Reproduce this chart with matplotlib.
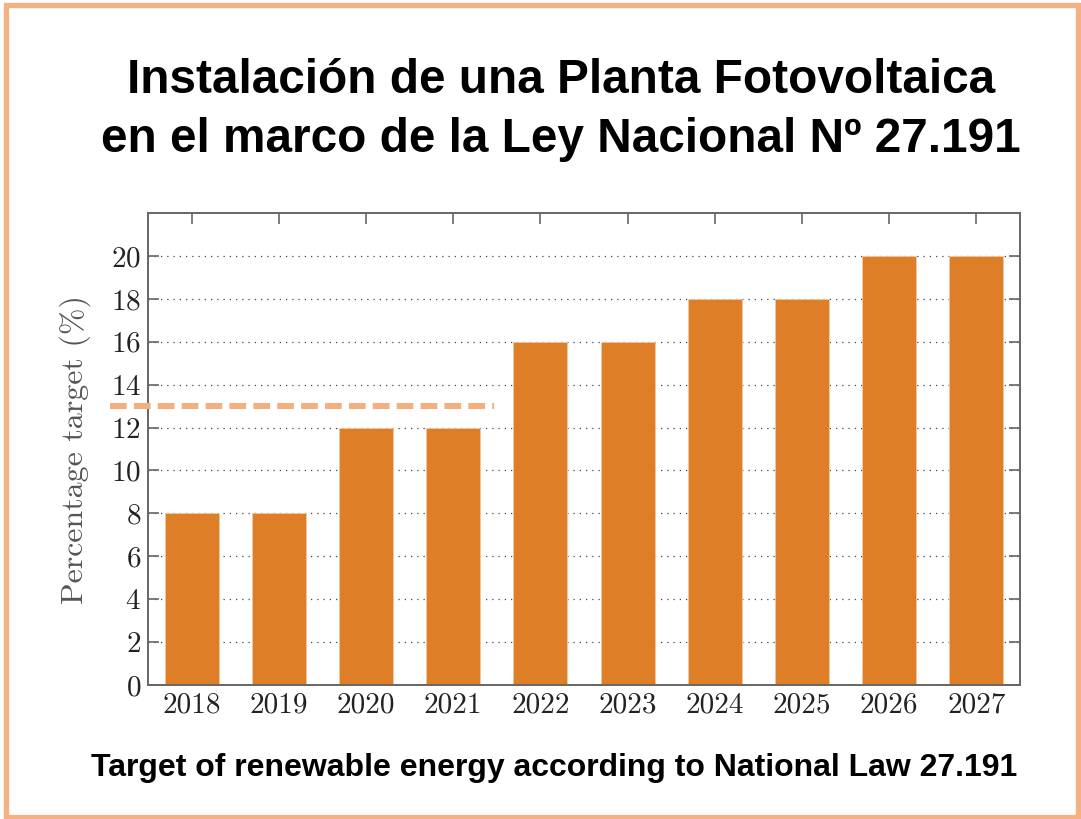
import matplotlib.pyplot as plt
from matplotlib.patches import Rectangle

plt.rcParams['axes.formatter.use_mathtext'] = True

years = ['2018', '2019', '2020', '2021', '2022', '2023', '2024', '2025', '2026', '2027']
targets = [8, 8, 12, 12, 16, 16, 18, 18, 20, 20]
current_level = 13

title = 'Instalación de una Planta Fotovoltaica\nen el marco de la Ley Nacional Nº 27.191'
caption = 'Target of renewable energy according to National Law 27.191'

bar_color = '#DE7F28'
line_color = '#F4AE80'
frame_color = '#F4B183'

fig = plt.figure(figsize=(10.81, 8.19), dpi=100)
ax = fig.add_axes([0.1369, 0.1636, 0.8067, 0.5763])

x = range(len(years))
ax.bar(x, targets, width=0.62, color=bar_color, edgecolor='#F0C8A0', linewidth=0.6, zorder=2)

ax.set_xlim(-0.5, len(years) - 0.5)
ax.set_ylim(0, 22)
ax.set_yticks(range(0, 21, 2))
ax.set_xticks(list(x))
ax.set_xticklabels(years)

ax.grid(axis='y', linestyle=(0, (1, 4)), color='#444444', linewidth=0.9, zorder=1)
ax.set_axisbelow(True)

# reference line, runs past the left spine
ax.axhline(current_level, xmin=-0.044, xmax=0.397, color=line_color, linewidth=4.3,
           dashes=(2.8, 1.2), clip_on=False, zorder=3)

for s in ax.spines.values():
    s.set_color('#666666')
    s.set_linewidth(1.4)

ax.tick_params(direction='in', top=True, right=True, length=8, width=1.2,
               color='#666666', labelsize=21, labelcolor='#222222', pad=5)
for lab in ax.get_xticklabels() + ax.get_yticklabels():
    lab.set_family('cmr10')

ax.set_ylabel('Percentage target (%)', family='cmr10', fontsize=23, color='#555555', labelpad=14)

fig.text(0.519, 0.866, title, ha='center', va='center', fontsize=34.4, fontweight='bold',
         family='Liberation Sans', linespacing=1.4)
fig.text(0.513, 0.062, caption, ha='center', va='center', fontsize=23, fontweight='bold',
         family='Liberation Sans')

fig.patches.append(Rectangle((5.5 / 1081, 2 / 819), 1072.5 / 1081, 812.5 / 819,
                             transform=fig.transFigure, fill=False,
                             edgecolor=frame_color, linewidth=3.8))

fig.savefig('out.png', dpi=100)
